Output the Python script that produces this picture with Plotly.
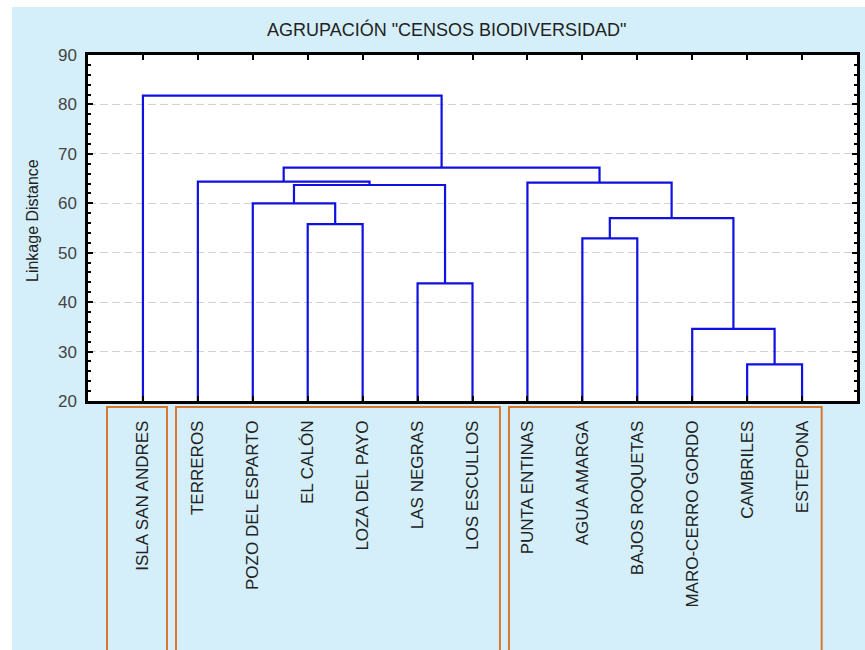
import plotly.graph_objects as go

# Sampling sites, in dendrogram leaf order
sites = [
    "ISLA SAN ANDRES", "TERREROS", "POZO DEL ESPARTO", "EL CALÓN",
    "LOZA DEL PAYO", "LAS NEGRAS", "LOS ESCULLOS", "PUNTA ENTINAS",
    "AGUA AMARGA", "BAJOS ROQUETAS", "MARO-CERRO GORDO", "CAMBRILES",
    "ESTEPONA",
]

# Linkage table: node ids 0..12 are sites, each merge creates id 13, 14, ...
merge_left = [11, 10, 5, 8, 3, 16, 2, 19, 7, 1, 22, 0]
merge_right = [12, 13, 6, 9, 4, 14, 17, 15, 18, 20, 21, 23]
merge_dist = [27.4, 34.6, 43.8, 52.9, 55.8, 57.0, 60.0, 63.7, 64.2, 64.4, 67.2, 81.8]

# Site groups outlined below the axis (first and last leaf index of each group)
group_first = [0, 1, 7]
group_last = [0, 6, 12]

Y_MIN, Y_MAX = 20, 90

# Position of every node: leaves at 1..n, clusters at the midpoint of their children
node_x = {i: i + 1 for i in range(len(sites))}
node_h = {i: Y_MIN for i in range(len(sites))}
xs, ys = [], []
for k, (a, b, d) in enumerate(zip(merge_left, merge_right, merge_dist)):
    nid = len(sites) + k
    xa, xb = node_x[a], node_x[b]
    xs += [xa, xa, xb, xb, None]
    ys += [node_h[a], d, d, node_h[b], None]
    node_x[nid] = (xa + xb) / 2
    node_h[nid] = d

fig = go.Figure()
fig.add_trace(go.Scatter(
    x=xs, y=ys, mode="lines",
    line=dict(color="#1010e0", width=2.2),
    hoverinfo="skip", showlegend=False,
))

# Pixel geometry of the plotting area
W, H = 865, 650
ML, MR, MT, MB = 88, 8, 55, 249
PW, PH = W - ML - MR, H - MT - MB


def px_to_paper_x(px):
    return (px - ML) / PW


def py_to_paper_y(py):
    return (H - MB - py) / PH


shapes = []
# white strips framing the light-blue panel
shapes.append(dict(type="rect", xref="paper", yref="paper", layer="above",
                   x0=px_to_paper_x(-2), x1=px_to_paper_x(12),
                   y0=py_to_paper_y(H + 2), y1=py_to_paper_y(-2),
                   line=dict(width=0), fillcolor="white"))
shapes.append(dict(type="rect", xref="paper", yref="paper", layer="above",
                   x0=px_to_paper_x(-2), x1=px_to_paper_x(W + 2),
                   y0=py_to_paper_y(7), y1=py_to_paper_y(-2),
                   line=dict(width=0), fillcolor="white"))

# orange outlines around the site groups
pad_left = [0.654, 0.398, 0.336]
pad_right = [0.438, 0.50, 0.357]
for g0, g1, pl, pr in zip(group_first, group_last, pad_left, pad_right):
    shapes.append(dict(type="rect", xref="x", yref="paper", layer="above",
                       x0=node_x[g0] - pl, x1=node_x[g1] + pr,
                       y0=py_to_paper_y(H + 20), y1=py_to_paper_y(407),
                       line=dict(color="#d9772f", width=2), fillcolor="rgba(0,0,0,0)"))

font_family = "Liberation Sans, Arial, sans-serif"
text_color = "#222222"

fig.update_layout(
    width=W, height=H,
    margin=dict(l=ML, r=MR, t=MT, b=MB),
    paper_bgcolor="#d4eff9",
    plot_bgcolor="white",
    font=dict(family=font_family, color=text_color),
    shapes=shapes,
    annotations=[
        dict(text='AGRUPACIÓN "CENSOS BIODIVERSIDAD"', xref="paper", yref="paper",
             x=px_to_paper_x(447), y=py_to_paper_y(30), xanchor="center", yanchor="middle",
             showarrow=False, font=dict(size=18, color=text_color)),
        dict(text="Linkage Distance", xref="paper", yref="paper",
             x=px_to_paper_x(32), y=py_to_paper_y(221), xanchor="center", yanchor="middle",
             textangle=-90, showarrow=False, font=dict(size=16, color=text_color)),
    ],
    xaxis=dict(
        range=[0, len(sites) + 1],
        tickmode="array", tickvals=list(range(1, len(sites) + 1)), ticktext=sites,
        tickangle=-90, ticks="inside", ticklen=5, tickwidth=1.5, tickcolor="black",
        showline=True, linewidth=2.5, linecolor="black", mirror="ticks",
        showgrid=False, zeroline=False, automargin=False,
        tickfont=dict(size=17, color=text_color), ticklabelstandoff=10,
        fixedrange=True,
    ),
    yaxis=dict(
        range=[Y_MIN, Y_MAX], dtick=10, tick0=0,
        ticks="inside", ticklen=5, tickwidth=1.5, tickcolor="black",
        minor=dict(dtick=2, ticks="inside", ticklen=3, tickcolor="black", showgrid=False),
        showline=True, linewidth=2.5, linecolor="black", mirror="ticks",
        showgrid=True, gridcolor="#d2d2d2", griddash="8px,4px", gridwidth=1,
        zeroline=False, automargin=False,
        tickfont=dict(size=17, color="#444444"), ticklabelstandoff=5,
        fixedrange=True,
    ),
)

fig.write_html("out.html")
